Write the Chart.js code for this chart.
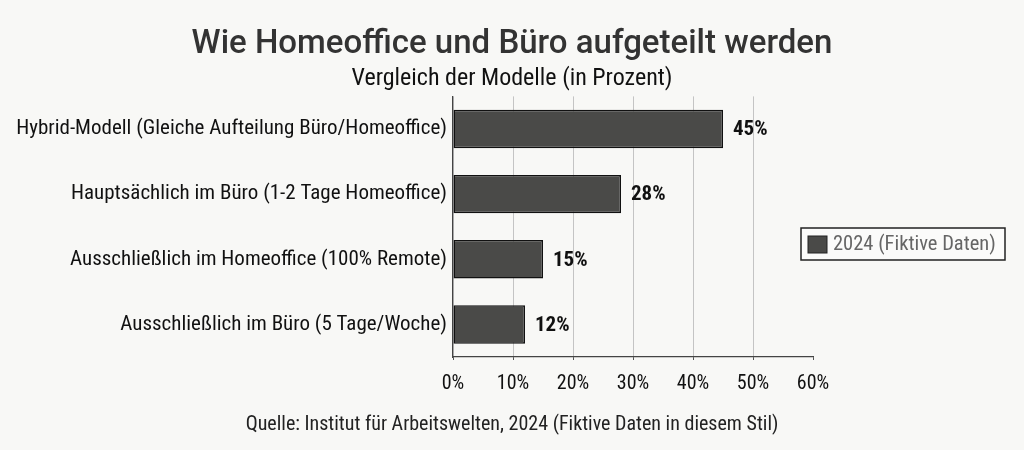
<!DOCTYPE html>
<html>
<head>
<meta charset="utf-8">
<script src="https://cdn.jsdelivr.net/npm/chart.js@4/dist/chart.umd.min.js"></script>
<style>
  html, body { margin: 0; padding: 0; background: #f8f8f6; }
  #wrap { width: 1024px; height: 450px; }
</style>
</head>
<body>
<div id="wrap"><canvas id="chart"></canvas></div>
<script>
// data
const categories = [
  'Hybrid-Modell (Gleiche Aufteilung Büro/Homeoffice)',
  'Hauptsächlich im Büro (1-2 Tage Homeoffice)',
  'Ausschließlich im Homeoffice (100% Remote)',
  'Ausschließlich im Büro (5 Tage/Woche)',
];
const shares2024 = [45, 28, 15, 12];
const seriesLabel = '2024 (Fiktive Daten)';
const titleText = 'Wie Homeoffice und Büro aufgeteilt werden';
const subtitleText = 'Vergleich der Modelle (in Prozent)';
const sourceText = 'Quelle: Institut für Arbeitswelten, 2024 (Fiktive Daten in diesem Stil)';

const NARROW = '"Liberation Sans Narrow", "Roboto Condensed", Roboto, sans-serif';
const BAR = '#4a4a48';

// value labels at the end of each bar
const valueLabels = {
  id: 'valueLabels',
  afterDatasetsDraw(chart) {
    const { ctx } = chart;
    const meta = chart.getDatasetMeta(0);
    ctx.save();
    ctx.font = 'bold 21px ' + NARROW;
    ctx.fillStyle = '#111';
    ctx.textAlign = 'left';
    ctx.textBaseline = 'middle';
    meta.data.forEach((bar, i) => {
      ctx.fillText(shares2024[i] + '%', bar.x + 10, bar.y + 1);
    });
    ctx.restore();
  },
};

// framed legend on the right + source line at the bottom
const extras = {
  id: 'extras',
  afterDraw(chart) {
    const { ctx } = chart;
    ctx.save();
    // legend frame
    ctx.strokeStyle = '#222';
    ctx.lineWidth = 1.5;
    ctx.fillStyle = '#fbfbfa';
    ctx.fillRect(801, 228, 204, 32);
    ctx.strokeRect(801, 228, 204, 32);
    // swatch
    ctx.fillStyle = BAR;
    ctx.fillRect(808, 236, 19, 17);
    ctx.lineWidth = 1;
    ctx.strokeRect(808, 236, 19, 17);
    // legend text
    ctx.font = '20.5px ' + NARROW;
    ctx.fillStyle = '#666';
    ctx.textBaseline = 'middle';
    ctx.textAlign = 'left';
    ctx.fillText(chart.data.datasets[0].label, 833, 245);
    // source
    ctx.font = '20px ' + NARROW;
    ctx.fillStyle = '#222';
    ctx.textAlign = 'center';
    ctx.fillText(sourceText, 512, 425);
    ctx.restore();
  },
};

new Chart(document.getElementById('chart'), {
  type: 'bar',
  data: {
    labels: categories,
    datasets: [{
      label: seriesLabel,
      data: shares2024,
      backgroundColor: BAR,
      borderColor: '#111',
      borderWidth: 1.5,
      borderSkipped: false,
      categoryPercentage: 1,
      barPercentage: 0.59,
    }],
  },
  options: {
    indexAxis: 'y',
    responsive: true,
    maintainAspectRatio: false,
    animation: false,
    layout: { padding: { left: 0, right: 0, top: 0, bottom: 42 } },
    plugins: {
      legend: { display: false },
      tooltip: { enabled: false },
      title: {
        display: true,
        text: titleText,
        color: '#333',
        font: { family: 'Roboto, sans-serif', size: 33, weight: '500' },
        padding: { top: 25, bottom: 0 },
      },
      subtitle: {
        display: true,
        text: subtitleText,
        color: '#111',
        font: { family: NARROW, size: 24 },
        padding: { top: 0, bottom: 3 },
      },
    },
    scales: {
      x: {
        min: 0,
        max: 60,
        ticks: {
          stepSize: 10,
          color: '#111',
          font: { family: NARROW, size: 20 },
          padding: 12,
          callback: (v) => v + '%',
        },
        grid: {
          color: (c) => (c.tick && c.tick.value === 60 ? 'rgba(0,0,0,0)' : '#c4c4c4'),
          tickColor: '#555',
          tickLength: 3,
          lineWidth: 1,
        },
        border: { display: true, color: '#444', width: 1.2 },
      },
      y: {
        afterFit: (scale) => { scale.width = 453; },
        ticks: {
          color: '#111',
          font: { family: NARROW, size: 21 },
          padding: 6,
        },
        grid: { display: false, drawTicks: false },
        border: { display: true, color: '#444', width: 1.2 },
      },
      // empty right-hand gutter that leaves room for the legend box
      gutter: {
        type: 'linear',
        position: 'right',
        display: true,
        afterFit: (scale) => { scale.width = 211; },
        ticks: { display: false },
        grid: { display: false },
        border: { display: false },
      },
    },
  },
  plugins: [valueLabels, extras],
});
</script>
</body>
</html>
